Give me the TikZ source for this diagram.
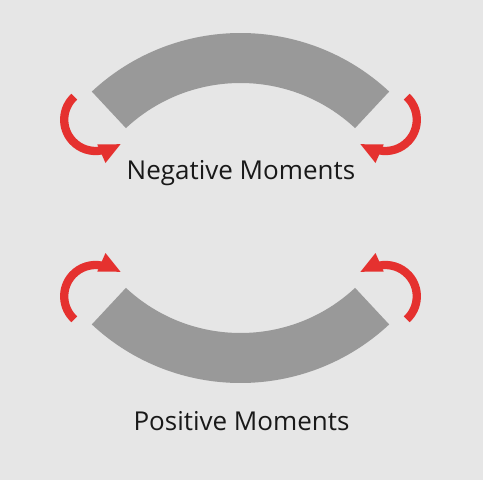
\documentclass[tikz,border=0pt]{standalone}
\usepackage{fontspec}
\setmainfont{Open Sans}
\usetikzlibrary{positioning}
\definecolor{bggray}{RGB}{230,230,230}
\definecolor{beamgray}{RGB}{153,153,153}
\definecolor{momentred}{RGB}{229,49,47}

\begin{document}
\begin{tikzpicture}[x=1pt,y=1pt,
  beam/.style={fill=beamgray},
  moment/.style={draw=momentred,line width=8.3pt},
  momenttip/.style={fill=momentred},
  caption/.style={anchor=base,inner sep=0pt,text=black!90,font=\fontsize{26}{30}\selectfont}]
  \fill[bggray] (-240.5,-272) rectangle (242.5,208);
  \foreach \sy in {1,-1}{
    \begin{scope}[yscale=\sy]
      \fill[beam,shift={(0,-43)}] (47:218) arc[start angle=47,end angle=133,radius=218]
        -- (133:168) arc[start angle=133,end angle=47,radius=168] -- cycle;
      \foreach \sx in {1,-1}{
        \begin{scope}[xscale=\sx]
          \draw[moment] (-145,88.3) ++(132.7:31.3) arc[start angle=132.7,end angle=282,radius=31.3];
          \fill[momenttip] (-143.2,63.5) -- (-120,63.8) -- (-135,45) -- cycle;
        \end{scope}
      }
    \end{scope}
  }
  \node[caption] (neg) at (0.5,28.7) {Negative Moments};
  \node[caption] (pos) at (1,-222) {Positive Moments};
\end{tikzpicture}
\end{document}
